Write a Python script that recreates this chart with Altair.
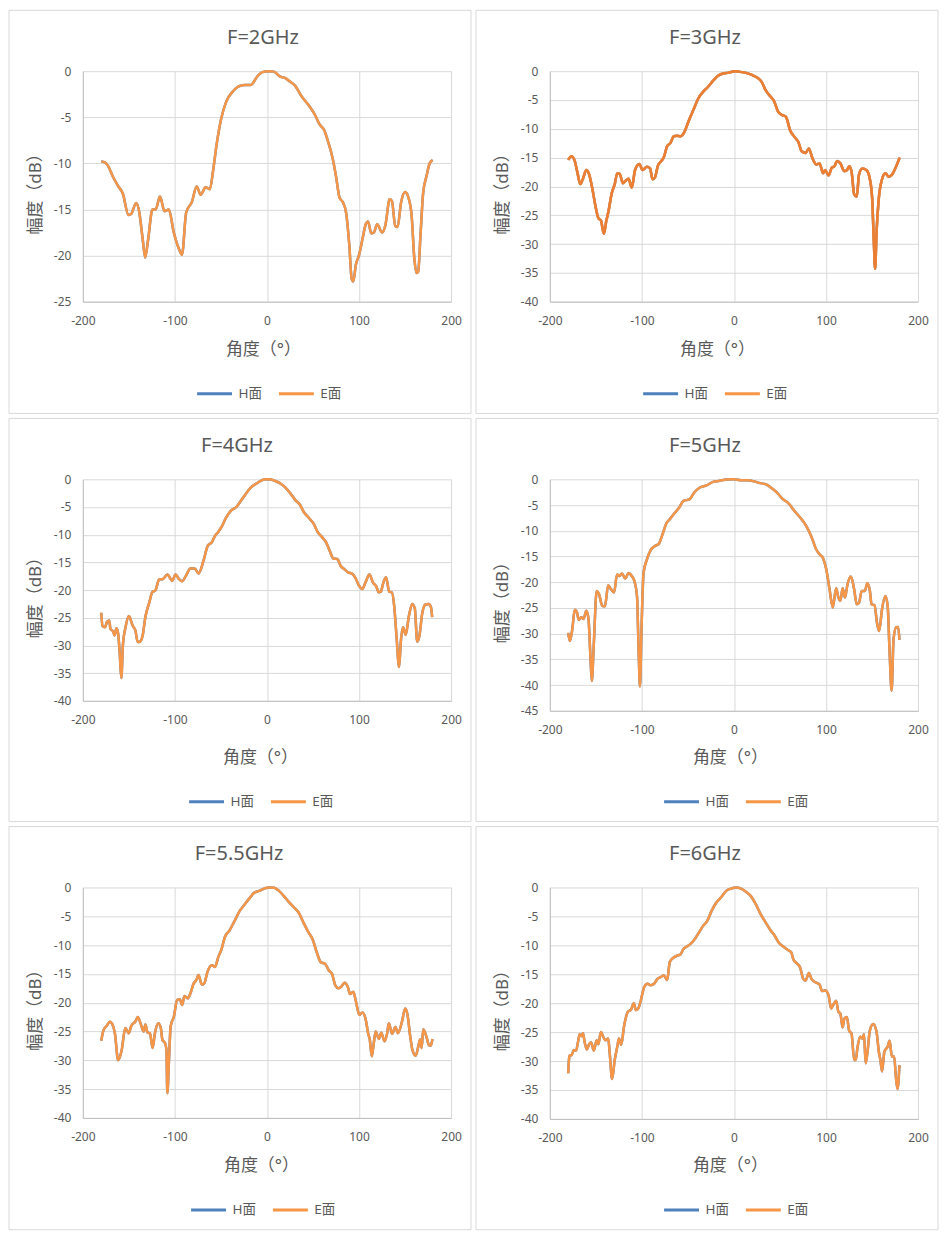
import altair as alt
import pandas as pd

FONT = '"Noto Sans", "Noto Sans CJK SC", sans-serif'
TEXT_COLOR = "#595959"

SERIES = ["H面", "E面"]
COLORS = ["#4F81BD", "#F79646"]
X_TICKS = [-200, -100, 0, 100, 200]
X_TITLE = "角度（°）"
Y_TITLE = "幅度（dB）"
TITLES = ["F=2GHz", "F=3GHz", "F=4GHz", "F=5GHz", "F=5.5GHz", "F=6GHz"]
Y_MINS = [-25, -40, -40, -45, -40, -40]

# ---- F=2GHz ----
ang_2 = [-180, -176, -172.5, -167, -162, -156.5, -150.4, -147.6, -142, -138.7,
         -135, -132.3, -129, -124.4, -120.9, -116.2, -111.2, -106.6, -101.2, -95.9,
         -92.3, -87.7, -81.6, -76.3, -72, -66.7, -62, -58.5, -54.9, -49.6,
         -44.2, -37.1, -31.7, -24.6, -17.5, -10.3, -5, 2, 7.5, 14.6,
         20, 25.3, 30.7, 37.8, 44.9, 52, 57.4, 62, 66.3, 71.7,
         75.2, 78.8, 82.4, 85.9, 89.5, 92, 93.8, 96.6, 100.2, 103.8,
         107.3, 109.8, 113.4, 116.2, 119.8, 125.1, 128.7, 133.3, 135.8, 139.4,
         141.9, 145.8, 150.1, 153.7, 157.2, 160.1, 162.6, 164.3, 166.8, 169.7,
         173.3, 176.8, 180]
db_2 = [-9.8, -9.9, -10.3, -11.5, -12.4, -13.3, -15.6, -15.5, -14.3, -15.3,
        -18.2, -20.2, -18.2, -15.0, -15.0, -13.6, -15.2, -15.0, -17.5, -19.2,
        -19.9, -15.3, -14.2, -12.5, -13.4, -12.6, -12.8, -10.8, -8.1, -5.1,
        -3.3, -2.2, -1.7, -1.5, -1.5, -0.55, -0.1, 0, -0.05, -0.6,
        -0.75, -1.15, -1.6, -2.75, -3.65, -4.7, -5.8, -6.35, -7.6, -9.6,
        -11.5, -13.7, -14.2, -15.3, -18.9, -22.5, -22.8, -21.0, -19.9, -18.2,
        -16.6, -16.3, -17.6, -17.5, -16.6, -17.5, -16.7, -13.9, -14.1, -16.8,
        -16.9, -14.2, -13.1, -13.7, -15.7, -20.3, -21.9, -21.75, -17.8, -13.2,
        -11.4, -10.0, -9.65]

# ---- F=3GHz ----
ang_3 = [-180, -176.5, -172.9, -170, -166.9, -164, -160.4, -157.3, -153.7, -150.2,
         -147.3, -144.5, -141.3, -138.8, -135.9, -133, -129.5, -126.7, -124.1, -120.6,
         -118.1, -114.5, -111, -107.4, -102.8, -99.2, -94.6, -91, -88.5, -86,
         -82.5, -78.9, -76.1, -72.5, -68.9, -65.4, -61.8, -58.2, -54, -49.3,
         -44, -38.6, -33.3, -28, -22.6, -17.3, -11.9, -5.5, 0.5, 5.9,
         13, 20.1, 25.5, 30.1, 34.4, 39.7, 43.3, 47.9, 52.2, 56.4,
         61.1, 65.7, 70, 73.6, 77.8, 81.4, 85, 89.6, 93.1, 96.7,
         99.2, 102.8, 106.3, 109.2, 112, 115.6, 119.9, 122.7, 125.2, 127.7,
         130.6, 133.4, 135.9, 139.5, 144.1, 147.7, 150.2, 152, 153.4, 154.9,
         157.3, 160.9, 164.5, 168, 171.6, 175.2, 180]
db_3 = [-15.4, -14.75, -15.6, -17.6, -19.6, -18.65, -17.15, -17.9, -20.5, -23.6,
        -25.5, -25.9, -28.2, -26.1, -24.0, -21.35, -19.6, -17.7, -17.8, -19.45,
        -19.05, -18.65, -20.2, -17.15, -16.1, -17.15, -16.6, -16.9, -18.75, -18.5,
        -16.35, -15.6, -14.9, -13.0, -12.45, -11.3, -11.2, -11.3, -10.6, -8.7,
        -6.7, -4.7, -3.55, -2.7, -1.65, -0.8, -0.4, -0.25, 0, -0.1,
        -0.3, -0.7, -1.15, -1.85, -3.3, -4.4, -5.1, -7.0, -7.6, -7.9,
        -10.3, -11.4, -12.3, -13.9, -14.2, -13.4, -15.0, -16.2, -16.0, -17.7,
        -17.15, -18.1, -16.75, -16.5, -15.6, -16.0, -17.35, -17.2, -16.5, -17.35,
        -21.35, -21.8, -17.9, -16.9, -17.2, -18.75, -22.2, -29.7, -34.3, -28.0,
        -22.2, -18.75, -17.7, -18.3, -18.0, -16.9, -15.0]

# ---- F=4GHz ----
ang_4 = [-180, -178.6, -176, -173.6, -171.4, -170, -167.1, -165.4, -163.6, -161.8,
         -160, -158.2, -156.4, -153.6, -150, -145.7, -142.9, -140.4, -137.9, -135,
         -132.1, -127.9, -124.3, -121.4, -117.1, -112.9, -108.2, -102.9, -99.3, -95.7,
         -92.1, -87.9, -83.2, -78.6, -74.3, -68.9, -64.3, -60, -56.4, -52.9,
         -49.3, -45, -39.3, -33.2, -27.9, -22.5, -17.1, -11.8, -6.4, -1,
         4.3, 9.6, 15, 20.4, 25.7, 31.1, 35.7, 40, 45.4, 50.7,
         55, 59.6, 64.3, 68.6, 72.1, 76.4, 80, 84.6, 88.2, 92.9,
         96.4, 100, 103.6, 107.1, 111.4, 115, 118.6, 121.4, 123.9, 125.7,
         129.3, 132.9, 135.7, 138.2, 140.7, 143.6, 145.4, 147.9, 150.7, 154.3,
         157.9, 160.7, 163.2, 165.7, 168.6, 172.1, 175.7, 178.2, 179.5]
db_4 = [-24.1, -26.5, -26.7, -25.7, -25.5, -27.0, -27.5, -28.2, -26.9, -27.7,
        -31.2, -35.9, -29.7, -26.7, -24.7, -26.5, -27.3, -29.4, -29.3, -28.2,
        -24.9, -22.3, -20.3, -20.1, -18.1, -18.0, -17.2, -18.3, -17.2, -18.0,
        -18.4, -17.4, -16.1, -16.1, -17.0, -14.7, -12.0, -11.4, -10.2, -9.5,
        -8.6, -7.1, -5.7, -5.0, -3.8, -2.5, -1.4, -0.8, -0.25, 0,
        -0.05, -0.35, -0.8, -1.55, -2.6, -3.8, -4.55, -5.9, -6.95, -8.0,
        -9.5, -10.4, -11.4, -13.1, -14.3, -14.4, -15.6, -16.3, -16.8, -17.1,
        -17.9, -19.2, -19.8, -18.6, -17.2, -18.6, -19.3, -20.4, -20.3, -19.1,
        -17.7, -20.3, -20.4, -22.8, -28.2, -33.9, -29.4, -26.7, -28.1, -24.6,
        -22.5, -23.4, -29.3, -28.2, -24.3, -22.6, -22.5, -23.1, -24.9]

# ---- F=5GHz ----
ang_5 = [-180, -178.3, -175.8, -172.9, -170.5, -168.6, -165.8, -163.3, -160.4, -158,
         -155.8, -154.4, -152.3, -149.1, -146.6, -143, -140.2, -136.6, -133.8, -130.2,
         -127, -124.2, -121.7, -118.1, -114.5, -111, -108.1, -105.3, -103.5, -102.1,
         -100.3, -98.2, -94.6, -90.3, -86.1, -81.4, -77.8, -73.2, -68.9, -64.6,
         -60, -54.7, -48.3, -43.3, -36.9, -29.7, -22.6, -15.5, -8.4, 0,
         7.7, 14.8, 21.9, 27.3, 34.4, 41.5, 46.8, 52.2, 59.3, 66.4,
         73.6, 78.9, 84.3, 89.6, 93.2, 96.7, 100.3, 103.9, 107.4, 111,
         113.5, 115.6, 118.1, 120.6, 123.4, 127, 130.6, 133.4, 135.9, 138.8,
         142.3, 144.8, 147.7, 149.5, 152.7, 155.6, 157.7, 160.9, 164.5, 167,
         169.1, 171.3, 173.4, 176.3, 178.4, 179.8]
db_5 = [-29.85, -31.45, -29.4, -25.35, -25.9, -27.3, -26.8, -27.15, -25.55, -27.15,
        -34.85, -39.2, -32.3, -21.7, -22.3, -24.6, -24.7, -20.6, -21.3, -22.0,
        -18.5, -18.8, -18.3, -19.3, -18.2, -18.8, -19.8, -22.7, -33.6, -40.3,
        -28.4, -18.2, -15.6, -13.7, -13.0, -12.5, -10.8, -8.5, -7.6, -6.6,
        -5.65, -4.2, -3.9, -2.6, -1.6, -1.2, -0.5, -0.3, -0.05, 0,
        -0.2, -0.2, -0.4, -0.7, -0.95, -1.8, -2.6, -3.7, -4.7, -6.3,
        -7.8, -9.2, -11.2, -13.7, -14.6, -15.3, -17.5, -21.4, -24.9, -21.2,
        -23.0, -23.6, -21.2, -23.0, -20.4, -18.9, -21.4, -24.3, -24.0, -21.7,
        -21.7, -20.2, -21.7, -24.3, -24.5, -28.1, -29.5, -25.2, -22.7, -24.6,
        -33.6, -41.1, -31.0, -28.75, -28.7, -31.2]

# ---- F=5.5GHz ----
ang_55 = [-180, -177.6, -174, -170.5, -168, -165.2, -161.6, -158, -153.8, -150.2,
          -147.3, -143.1, -140.2, -137.4, -133.8, -132.1, -129.6, -127.1, -124.2, -121.7,
          -118.1, -115.3, -113.5, -111, -109.2, -108.2, -106.4, -104.6, -101.1, -97.5,
          -94.6, -92.1, -89.6, -86.1, -83.2, -79.7, -76.8, -74.3, -70.8, -67.9,
          -64.7, -60, -56.5, -52.9, -49.3, -45.8, -40.4, -35.1, -29.7, -24.4,
          -19.1, -13.7, -8.4, -3, 2.3, 7.7, 13, 18.4, 23.7, 29,
          34.4, 39.7, 45.1, 49.4, 54, 58.6, 62.9, 67.2, 70.7, 74.3,
          77.8, 80.7, 84.2, 87.8, 90.3, 93.8, 96.7, 100.3, 103.8, 107.4,
          109.9, 111.7, 113.9, 115.6, 118.1, 121.7, 124.2, 127.8, 130.6, 132.4,
          136, 139.5, 142.4, 146.7, 150.2, 152.7, 155.6, 158.1, 161.6, 164.5,
          166.3, 168.1, 169.8, 173.4, 176.3, 178, 179.8]
db_55 = [-26.6, -24.8, -24.0, -23.3, -23.7, -25.3, -30.0, -28.4, -24.4, -25.3,
         -24.0, -23.3, -22.5, -23.55, -25.0, -23.8, -25.2, -25.3, -27.85, -25.3,
         -23.55, -24.4, -26.5, -26.9, -28.1, -35.7, -29.9, -24.1, -22.4, -19.5,
         -19.4, -20.4, -18.85, -19.25, -18.4, -16.7, -16.1, -15.2, -16.85, -16.6,
         -14.7, -13.5, -13.8, -12.1, -10.7, -8.65, -7.4, -5.8, -4.1, -3.0,
         -1.9, -0.9, -0.6, -0.2, 0, -0.05, -0.6, -1.5, -2.5, -3.4,
         -4.35, -6.1, -7.8, -8.9, -11.2, -13.0, -13.2, -14.4, -15.0, -17.0,
         -17.5, -17.25, -16.55, -17.25, -18.5, -18.1, -19.8, -22.1, -21.7, -23.0,
         -25.3, -26.4, -29.3, -27.6, -25.0, -26.3, -25.2, -26.7, -25.3, -23.55,
         -25.4, -24.2, -25.3, -23.3, -21.0, -22.1, -25.8, -28.25, -29.2, -27.55,
         -26.4, -27.85, -24.6, -26.0, -27.45, -27.45, -26.3]

# ---- F=6GHz ----
ang_6 = [-180, -178.6, -176.5, -174, -171.5, -169.4, -167.6, -165.8, -164, -162.2,
         -159.8, -157.3, -155.1, -152.3, -149.1, -147.3, -144.5, -142, -139.5, -136.6,
         -134.9, -132.4, -129.5, -126.7, -124.9, -122.4, -119.5, -115.3, -111.7, -108.8,
         -106.4, -103.9, -101.1, -97.5, -93.9, -90.3, -86.8, -83.2, -79.7, -76.1,
         -72.5, -69.7, -65.4, -61.8, -58.2, -54.7, -51.1, -47.5, -43.3, -38.6,
         -33.3, -29, -24.4, -19.1, -13.7, -8.4, -3, 2.3, 7.7, 13,
         18.4, 23.7, 29, 34.4, 39.7, 44.3, 48.6, 54, 58.6, 62.2,
         64.7, 68.2, 71.8, 75.3, 77.8, 81.4, 84.2, 88.5, 93.1, 95.6,
         99.2, 102.8, 105.6, 108.5, 111, 113.5, 115.6, 118.1, 119.9, 122.7,
         125.2, 127.7, 130.6, 132.4, 134.1, 137, 139.5, 141.3, 143.1, 144.9,
         147.7, 151.3, 154.9, 157.4, 159.1, 160.9, 163.4, 167, 169.1, 171.6,
         174.1, 175.9, 177.7, 179.8]
db_6 = [-32.1, -29.0, -29.0, -28.1, -28.2, -26.7, -25.35, -25.7, -25.2, -26.7,
        -28.0, -27.1, -26.8, -28.2, -26.4, -27.1, -25.0, -25.8, -26.4, -26.1,
        -28.7, -33.1, -29.8, -27.5, -26.1, -27.2, -24.1, -21.5, -21.1, -20.0,
        -21.2, -20.9, -19.5, -17.2, -16.65, -16.9, -16.65, -15.8, -15.5, -15.2,
        -16.0, -12.9, -12.1, -11.8, -11.6, -10.6, -10.2, -9.8, -9.1, -7.95,
        -6.6, -5.8, -4.1, -2.6, -1.65, -0.6, -0.2, 0, -0.2, -0.75,
        -1.5, -2.9, -4.6, -6.05, -7.4, -8.35, -9.5, -10.25, -10.8, -11.2,
        -12.5, -13.1, -13.8, -15.8, -16.1, -14.8, -15.8, -16.4, -16.8, -17.9,
        -17.8, -18.65, -20.9, -20.1, -19.6, -21.5, -21.8, -24.2, -22.7, -22.4,
        -24.8, -25.2, -29.8, -29.8, -27.8, -25.8, -26.1, -25.35, -30.4, -28.7,
        -24.7, -23.6, -24.95, -28.4, -29.8, -31.8, -28.4, -27.5, -26.5, -29.2,
        -29.2, -32.7, -34.85, -30.7]

ANGLES = [ang_2, ang_3, ang_4, ang_5, ang_55, ang_6]
VALUES = [db_2, db_3, db_4, db_5, db_55, db_6]

# ---- layout (pixels) ----
PLOT_W = 369
HEIGHTS = [231, 231, 222, 232, 231, 232]
TITLE_DX = [-4, -29, -30, -29, -28, -29]
LEGEND_X = [113, 92, 105, 113, 107, 113]
XTITLE_DX = [-4, -17, -7, -4, -6, -4]
E_STROKES = [None, "#EB7E33", None, None, None, None]
BOX = dict(left=-74, right=389, top=-61, bottom=343)


def make_panel(i):
    ang, db, h = ANGLES[i], VALUES[i], HEIGHTS[i]
    assert len(ang) == len(db), (i, len(ang), len(db))
    n = len(ang)
    ymin = Y_MINS[i]
    df_h = pd.DataFrame({"angle": ang, "db": db, "series": [SERIES[0]] * n})
    df_e = pd.DataFrame({"angle": ang, "db": db, "series": [SERIES[1]] * n})

    x = alt.X("angle:Q",
              scale=alt.Scale(domain=[-200, 200], nice=False, zero=False),
              axis=alt.Axis(values=X_TICKS, title=X_TITLE, labelExpr="'' + datum.value",
                            labelPadding=14, labelFlush=False,
                            titleX=PLOT_W / 2 + XTITLE_DX[i], titleY=279 - h,
                            titleBaseline="middle", titleAlign="center"))
    y = alt.Y("db:Q",
              scale=alt.Scale(domain=[ymin, 0], nice=False, zero=False),
              axis=alt.Axis(values=list(range(ymin, 1, 5)), title=Y_TITLE,
                            labelExpr="'' + datum.value", labelPadding=12,
                            titleX=-47, titleY=h / 2 + 3, titleAngle=270,
                            titleBaseline="middle", titleAlign="center"))
    color = alt.Color("series:N",
                      scale=alt.Scale(domain=SERIES, range=COLORS),
                      legend=alt.Legend(orient="none", legendX=LEGEND_X[i], legendY=304,
                                        direction="horizontal", title=None,
                                        symbolType="stroke", symbolSize=1225,
                                        symbolStrokeWidth=3, labelFontSize=13.5,
                                        labelFont=FONT, labelColor=TEXT_COLOR,
                                        labelOffset=5, columnPadding=10))

    border = alt.Chart(pd.DataFrame({"k": [0]})).mark_rect(
        fillOpacity=0, stroke="#D9D9D9", strokeWidth=1
    ).encode(x=alt.value(BOX["left"]), x2=alt.value(BOX["right"]),
             y=alt.value(BOX["top"]), y2=alt.value(BOX["bottom"]))

    line_h = alt.Chart(df_h).mark_line(strokeWidth=2.5, interpolate="monotone").encode(
        x=x, y=y, color=color)
    line_e = alt.Chart(df_e).mark_line(strokeWidth=2.5, interpolate="monotone").encode(
        x=x, y=y, color=color)
    layers = [border, line_h, line_e]
    if E_STROKES[i]:
        layers.append(alt.Chart(df_e).mark_line(strokeWidth=2.5, interpolate="monotone",
                                                stroke=E_STROKES[i]).encode(x=x, y=y))
    return alt.layer(*layers).properties(
        width=PLOT_W, height=h,
        title=alt.TitleParams(text=TITLES[i], frame="group", anchor="middle",
                              offset=-54.5, baseline="alphabetic", dx=TITLE_DX[i],
                              fontSize=20, font=FONT, color=TEXT_COLOR,
                              fontWeight="normal"))


panels = [make_panel(i) for i in range(6)]

chart = alt.concat(*panels, columns=2, spacing={"row": 177, "column": 99},
                   bounds="flush", align="all").resolve_scale(
    x="independent", y="independent", color="independent"
).resolve_legend(color="independent").properties(padding=0).configure_view(
    stroke=None
).configure_axis(
    domainColor="#BFBFBF", gridColor="#D9D9D9", ticks=False,
    labelColor=TEXT_COLOR, labelFont=FONT, labelFontSize=12,
    titleColor=TEXT_COLOR, titleFont=FONT, titleFontSize=17, titleFontWeight="normal"
)

chart.save("out.html", embed_options={"renderer": "svg", "actions": False})
